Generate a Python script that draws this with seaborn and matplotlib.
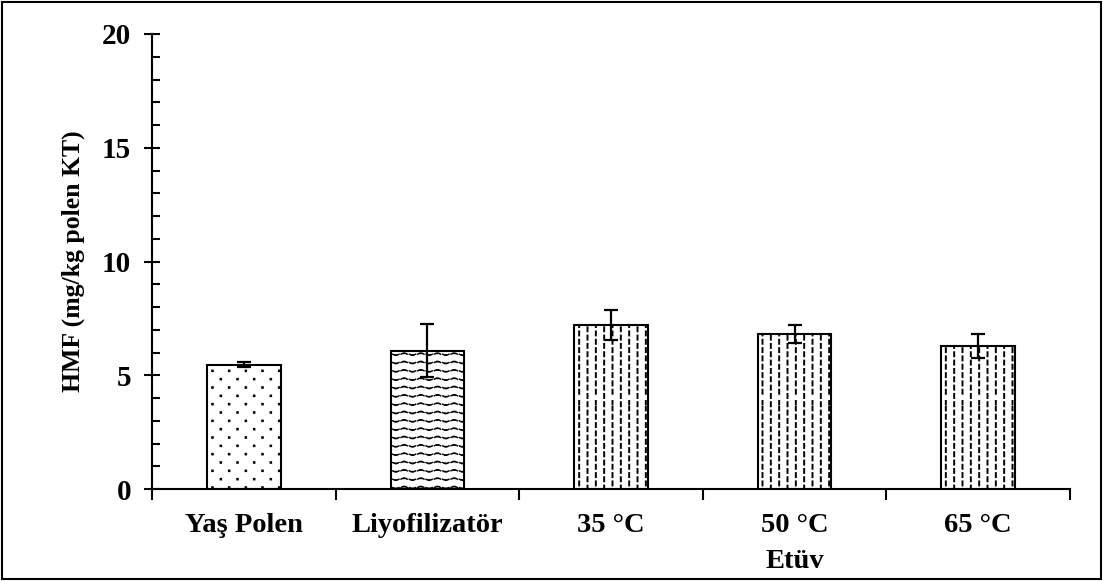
import warnings
import numpy as np
import pandas as pd
import matplotlib
matplotlib.use("Agg")
import matplotlib.pyplot as plt
import matplotlib.hatch as mhatch
from matplotlib.path import Path
from matplotlib.patches import Rectangle
import seaborn as sns

warnings.filterwarnings("ignore")

# ---------------- data ----------------
categories = ["Yaş Polen", "Liyofilizatör", "35 °C", "50 °C", "65 °C"]
hmf_mean = [5.47, 6.08, 7.21, 6.81, 6.30]
hmf_err = [0.10, 1.16, 0.66, 0.41, 0.52]
bar_hatches = ["d", "~", "!", "!", "!"]
yticks = [0, 5, 10, 15, 20]


# ---------------- custom hatch patterns ----------------
class StaggeredDots(mhatch.HatchPatternBase):
    def __init__(self, hatch, density):
        self.n = hatch.count("d")
        self.cols = 6
        self.rows = 12
        self.num_vertices = (5 * self.cols * self.rows) if self.n else 0

    def set_vertices_and_codes(self, vertices, codes):
        s = 0.003
        k = 0
        for r in range(self.rows):
            y = (r + 0.5) / self.rows
            off = 0.5 if r % 2 else 0.0
            for c in range(self.cols):
                x = ((c + 0.25 + off) / self.cols) % 1.0
                pts = [(x - s, y - s), (x + s, y - s), (x + s, y + s), (x - s, y + s), (x - s, y - s)]
                vertices[k:k + 5] = pts
                codes[k] = Path.MOVETO
                codes[k + 1:k + 4] = Path.LINETO
                codes[k + 4] = Path.CLOSEPOLY
                k += 5


class WaveHatch(mhatch.HatchPatternBase):
    def __init__(self, hatch, density):
        self.n = hatch.count("~")
        self.rows = 12
        self.waves = 6
        self.seg = 8
        self.num_vertices = (self.rows * self.waves * 2 * self.seg) if self.n else 0

    def set_vertices_and_codes(self, vertices, codes):
        k = 0
        for r in range(self.rows):
            yc = (r + 0.5) / self.rows
            for w in range(self.waves):
                for half in range(2):
                    x0 = (w + half * 0.5 + 0.06) / self.waves
                    x1 = (w + half * 0.5 + 0.44) / self.waves
                    xs = np.linspace(x0, x1, self.seg)
                    sign = 1 if half == 0 else -1
                    ys = yc + sign * 0.012 * np.sin(np.pi * (xs - x0) / (x1 - x0))
                    vertices[k:k + self.seg, 0] = xs
                    vertices[k:k + self.seg, 1] = ys
                    codes[k] = Path.MOVETO
                    codes[k + 1:k + self.seg] = Path.LINETO
                    k += self.seg


class DashedVertical(mhatch.HatchPatternBase):
    def __init__(self, hatch, density):
        self.n = hatch.count("!")
        self.cols = 12
        self.rows = 12
        self.num_vertices = (2 * self.cols * self.rows) if self.n else 0

    def set_vertices_and_codes(self, vertices, codes):
        L = 0.04
        k = 0
        for c in range(self.cols):
            x = (c + 0.5) / self.cols
            off = 0.5 / self.rows if c % 2 else 0.0
            for r in range(self.rows):
                y0 = ((r + 0.25) / self.rows + off) % 1.0
                y0 = min(y0, 1.0 - L)
                vertices[k] = (x, y0)
                vertices[k + 1] = (x, y0 + L)
                codes[k] = Path.MOVETO
                codes[k + 1] = Path.LINETO
                k += 2


mhatch._hatch_types.extend([StaggeredDots, WaveHatch, DashedVertical])

# ---------------- style ----------------
sns.set_theme(style="white")
plt.rcParams["font.family"] = ["Liberation Serif", "DejaVu Serif"]
plt.rcParams["font.weight"] = "bold"
plt.rcParams["hatch.linewidth"] = 1.4
plt.rcParams["axes.linewidth"] = 1.5
for key in ["text.color", "axes.labelcolor", "xtick.color", "ytick.color", "axes.edgecolor"]:
    plt.rcParams[key] = "black"

fig = plt.figure(figsize=(11.03, 5.81), dpi=100)
ax = fig.add_axes([152 / 1103, 1 - 489 / 581, (1070 - 152) / 1103, (489 - 34) / 581])

df = pd.DataFrame({"cat": categories, "val": hmf_mean})
sns.barplot(data=df, x="cat", y="val", order=categories, color="white",
            edgecolor="black", linewidth=1.5, width=0.40, errorbar=None,
            saturation=1, ax=ax)

for bar, h in zip(ax.patches, bar_hatches):
    bar.set_hatch(h)
    bar.set_facecolor("white")
    bar.set_edgecolor("black")
    if h == "~" and hasattr(bar, "set_hatch_linewidth"):
        bar.set_hatch_linewidth(1.0)

ax.errorbar(np.arange(len(categories)), hmf_mean, yerr=hmf_err, fmt="none",
            ecolor="black", elinewidth=1.6, capsize=5, capthick=1.6, zorder=5)

ax.set_xlim(-0.5, len(categories) - 0.5)
ax.set_ylim(0, 20)
ax.set_yticks(yticks)
ax.set_yticklabels([str(v) for v in yticks])
ax.yaxis.set_minor_locator(matplotlib.ticker.MultipleLocator(1))
ax.tick_params(axis="y", which="major", direction="inout", length=12, width=1.5,
               labelsize=21, pad=9, left=True, colors="black")
ax.tick_params(axis="y", which="minor", direction="in", length=6, width=1.5, left=True)

ax.set_xticks(np.arange(len(categories)))
ax.set_xticklabels(categories, fontsize=20.5, fontweight="bold")
ax.set_xticks(np.arange(-0.5, len(categories), 1.0), minor=True)
ax.tick_params(axis="x", which="major", length=0, pad=17, colors="black")
ax.tick_params(axis="x", which="minor", direction="out", length=8, width=1.5, bottom=True)

for lab in ax.get_yticklabels():
    lab.set_fontweight("bold")

ax.set_xlabel("")
ax.set_ylabel("HMF (mg/kg polen KT)", fontsize=18.5, fontweight="bold", labelpad=12, color="black")

for side in ["top", "right"]:
    ax.spines[side].set_visible(False)
for side in ["left", "bottom"]:
    ax.spines[side].set_color("black")
    ax.spines[side].set_linewidth(1.5)

ax.text(3, -0.16, "Etüv", transform=ax.get_xaxis_transform(), ha="center", va="center",
        fontsize=20.5, fontweight="bold", color="black")

fig.patches.append(Rectangle((0.0015, 0.003), 0.997, 0.994, transform=fig.transFigure,
                             fill=False, edgecolor="black", linewidth=1.5))

fig.savefig("out.png", dpi=100)
